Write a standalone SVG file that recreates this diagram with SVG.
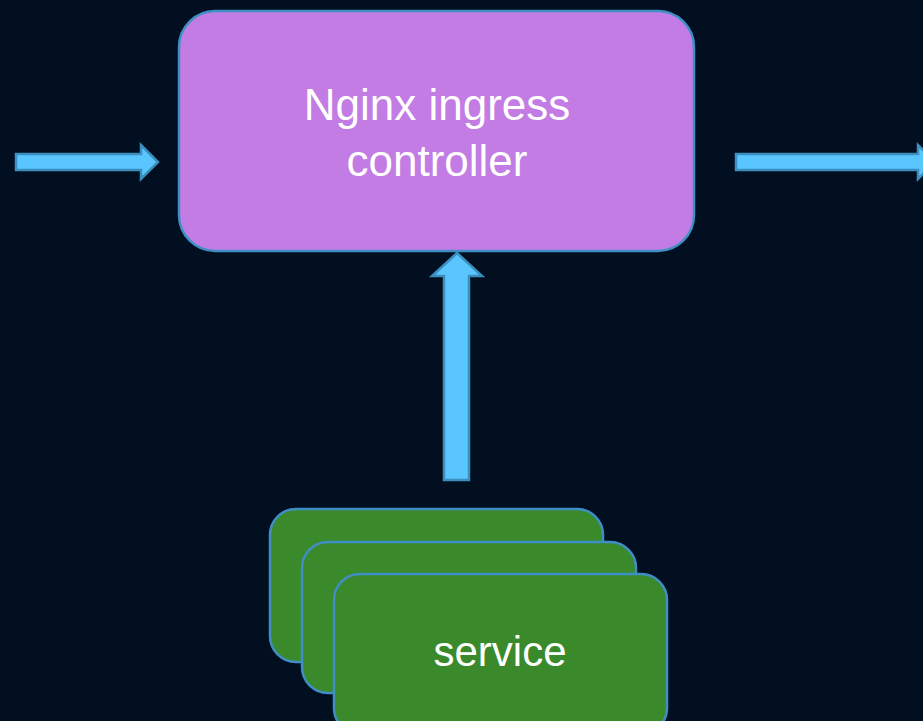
<svg xmlns="http://www.w3.org/2000/svg" width="923" height="721" viewBox="0 0 923 721">
<style>
.bg{fill:#020F21}
.box{stroke:#3F8FC4;stroke-width:2.5}
.ctl{fill:#C27CE3}
.svc{fill:#3A8A2B}
.arr{fill:#59C6FF;stroke:#3C8EBF;stroke-width:2.5;stroke-linejoin:miter}
.lbl{font-family:"Liberation Sans",Arial,sans-serif;fill:#FFFFFF;text-anchor:middle}
</style>
<rect class="bg" x="0" y="0" width="923" height="721"/>
<g id="connectors">
<path class="arr" d="M16,154 H141 V145 L158,162 L141,179 V170 H16 Z"/>
<path class="arr" d="M736,154 H918 V145 L935,162 L918,179 V170 H736 Z"/>
<path class="arr" d="M444,480 V276 H432 L457,253 L482,276 H469 V480 Z"/>
</g>
<g id="controller">
<rect class="box ctl" x="179" y="11" width="515" height="240" rx="36"/>
<text class="lbl" x="437" y="120" font-size="44">Nginx ingress</text>
<text class="lbl" x="437" y="176" font-size="44">controller</text>
</g>
<g id="service1">
<rect class="box svc" x="270" y="509" width="333" height="153" rx="26"/>
</g>
<g id="service2">
<rect class="box svc" x="302" y="542" width="334" height="151" rx="26"/>
</g>
<g id="service3">
<rect class="box svc" x="334" y="574" width="333" height="160" rx="26"/>
<text class="lbl" x="500" y="666" font-size="42">service</text>
</g>
</svg>
